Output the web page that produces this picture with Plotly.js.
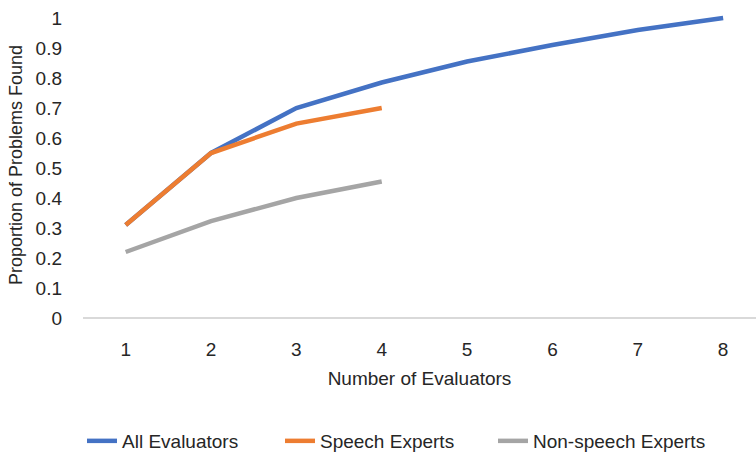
<!DOCTYPE html>
<html>
<head>
<meta charset="utf-8">
<script src="https://cdn.plot.ly/plotly-3.0.1.min.js"></script>
<style>
  html, body { margin: 0; padding: 0; background: #fff; }
  #chart { width: 756px; height: 453px; }
</style>
</head>
<body>
<div id="chart"></div>
<script>
// Number of evaluators on the x axis
const evaluators = [1, 2, 3, 4, 5, 6, 7, 8];
const evaluatorsSubset = [1, 2, 3, 4];

// Proportion of problems found, per group
const allEvaluators = [0.31, 0.55, 0.70, 0.785, 0.855, 0.91, 0.96, 1.0];
const speechExperts = [0.31, 0.55, 0.648, 0.70];
const nonSpeechExperts = [0.22, 0.323, 0.40, 0.455];

// Y axis ticks
const yTickVals = [0, 0.1, 0.2, 0.3, 0.4, 0.5, 0.6, 0.7, 0.8, 0.9, 1];
const yTickText = ['0', '0.1', '0.2', '0.3', '0.4', '0.5', '0.6', '0.7', '0.8', '0.9', '1'];

const fontFamily = 'Liberation Sans, Arial, sans-serif';
const textColor = '#262626';

const traces = [
  {
    x: evaluators, y: allEvaluators, name: 'All Evaluators',
    type: 'scatter', mode: 'lines', legend: 'legend',
    line: { color: '#4472C4', width: 4.5 }
  },
  {
    x: evaluatorsSubset, y: speechExperts, name: 'Speech Experts',
    type: 'scatter', mode: 'lines', legend: 'legend2',
    line: { color: '#ED7D31', width: 4.5 }
  },
  {
    x: evaluatorsSubset, y: nonSpeechExperts, name: 'Non-speech Experts',
    type: 'scatter', mode: 'lines', legend: 'legend3',
    line: { color: '#A5A5A5', width: 4.5 }
  }
];

// One legend box per series, laid out in a row under the axis title
function legendAt(left) {
  return {
    orientation: 'h',
    xref: 'container', x: left / 756, xanchor: 'left',
    yref: 'container', y: 1 - 441 / 453, yanchor: 'middle',
    font: { family: fontFamily, size: 19, color: textColor },
    itemwidth: 30, bgcolor: 'rgba(0,0,0,0)'
  };
}

const layout = {
  width: 756, height: 453,
  margin: { l: 83, r: 0, t: 12, b: 135, pad: 0, autoexpand: false },
  paper_bgcolor: '#ffffff', plot_bgcolor: '#ffffff',
  font: { family: fontFamily, size: 19, color: textColor },
  showlegend: true,
  legend: legendAt(82),
  legend2: legendAt(280),
  legend3: legendAt(493),
  xaxis: {
    range: [0.5, 8.385],
    tickvals: evaluators,
    ticktext: evaluators.map(String),
    showgrid: false, zeroline: false,
    showline: false, ticks: '',
    automargin: false,
    ticklabelstandoff: 18,
    tickfont: { size: 19, color: textColor },
    title: { text: 'Number of Evaluators', font: { size: 19, color: textColor }, standoff: 12 },
    fixedrange: true
  },
  yaxis: {
    range: [0, 1.02],
    tickvals: yTickVals, ticktext: yTickText,
    showgrid: false, zeroline: true, zerolinecolor: '#D9D9D9', zerolinewidth: 1.5,
    showline: false, ticks: '',
    automargin: false,
    ticklabelstandoff: 20,
    tickfont: { size: 19, color: textColor },
    title: { text: 'Proportion of Problems Found', font: { size: 18, color: textColor }, standoff: 8 },
    fixedrange: true
  }
};

Plotly.newPlot('chart', traces, layout, { displayModeBar: false, staticPlot: true });
</script>
</body>
</html>
